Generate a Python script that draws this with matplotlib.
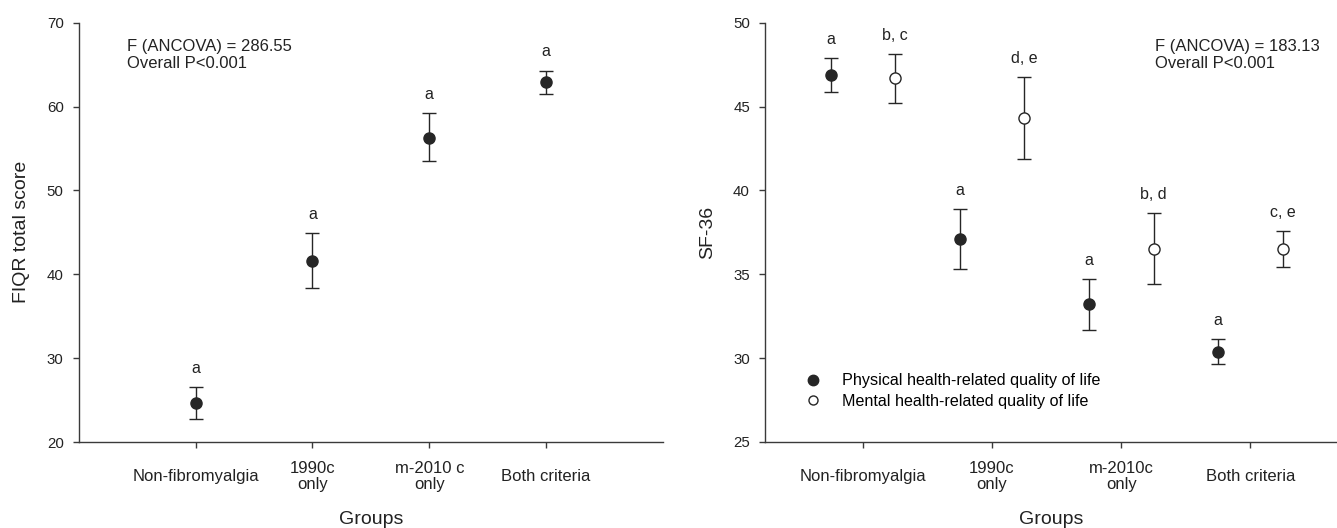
import matplotlib
matplotlib.use("Agg")
import matplotlib.pyplot as plt
import numpy as np

plt.rcParams['font.family'] = ['Liberation Sans', 'DejaVu Sans']

# ---- data ----
groups_left = ["Non-fibromyalgia", "1990c\nonly", "m-2010 c\nonly", "Both criteria"]
groups_right = ["Non-fibromyalgia", "1990c\nonly", "m-2010c\nonly", "Both criteria"]

fiqr_mean = [24.66, 41.6, 56.3, 62.93]
fiqr_upper = [26.55, 44.9, 59.2, 64.3]
fiqr_lower = [22.73, 38.4, 53.45, 61.5]
fiqr_letters = ["a", "a", "a", "a"]

phys_mean = [46.87, 37.09, 33.21, 30.38]
phys_upper = [47.91, 38.88, 34.74, 31.12]
phys_lower = [45.88, 35.32, 31.69, 29.64]
phys_letters = ["a", "a", "a", "a"]

ment_mean = [46.69, 44.32, 36.53, 36.53]
ment_upper = [48.15, 46.77, 38.67, 37.59]
ment_lower = [45.24, 41.85, 34.42, 35.46]
ment_letters = ["b, c", "d, e", "b, d", "c, e"]

left_note = "F (ANCOVA) = 286.55\nOverall P<0.001"
right_note = "F (ANCOVA) = 183.13\nOverall P<0.001"
legend_labels = ["Physical health-related quality of life",
                 "Mental health-related quality of life"]

# ---- figure ----
W, H = 1337, 528
fig = plt.figure(figsize=(W / 100, H / 100), dpi=100)
axL = (78.7, 663)
axR = (765, 1337)
ytop, ybot = 22.7, 442
ax1 = fig.add_axes([axL[0] / W, 1 - ybot / H, (axL[1] - axL[0]) / W, (ybot - ytop) / H])
ax2 = fig.add_axes([axR[0] / W, 1 - ybot / H, (axR[1] - axR[0]) / W, (ybot - ytop) / H])

lc = "#262626"
ac = "#3a3a3a"
tc = "#222222"
ytick_fs = 10.8
xtick_fs = 12
letter_fs = 11.5
note_fs = 12
label_fs = 14
ms = 8


def style(ax, width_px):
    for s in ["top", "right"]:
        ax.spines[s].set_visible(False)
    for s in ["left", "bottom"]:
        ax.spines[s].set_color(ac)
        ax.spines[s].set_linewidth(1.0)
    ax.tick_params(direction="out", length=4.3, width=1, color=ac, labelcolor=tc)
    ax.tick_params(axis="y", labelsize=ytick_fs, pad=6.5)
    ax.tick_params(axis="x", labelsize=xtick_fs, pad=20.5)
    for lab in ax.get_xticklabels():
        lab.set_verticalalignment("center")
        lab.set_linespacing(1.1)
    ax.yaxis.label.set_va("center")
    ax.yaxis.set_label_coords(-57.5 / width_px, 0.5)
    ax.xaxis.label.set_va("baseline")
    ax.xaxis.set_label_coords(0.5, -(524 - ybot) / (ybot - ytop))


def draw(ax, xs, mean, lower, upper, filled, letters):
    mean = np.array(mean)
    yerr = np.vstack([mean - np.array(lower), np.array(upper) - mean])
    ax.errorbar(xs, mean, yerr=yerr, fmt="o", ms=ms,
                mfc=lc if filled else "white", mec=lc, mew=1.0,
                ecolor=lc, elinewidth=1.0, capsize=5, capthick=1.0, zorder=3)
    for x, u, t in zip(xs, upper, letters):
        ax.annotate(t, (x, u), xytext=(0, 8), textcoords="offset points",
                    ha="center", va="bottom", fontsize=letter_fs, color=tc)


x = np.arange(1, 5)

# left panel
draw(ax1, x, fiqr_mean, fiqr_lower, fiqr_upper, True, fiqr_letters)
ax1.set_xlim(0, 5)
ax1.set_ylim(20, 70)
ax1.set_yticks([20, 30, 40, 50, 60, 70])
ax1.set_xticks(x)
ax1.set_xticklabels(groups_left)
ax1.set_ylabel("FIQR total score", fontsize=label_fs, color=tc)
ax1.set_xlabel("Groups", fontsize=label_fs, color=tc)
ax1.text(127 / W, 1 - 38.5 / H, left_note, transform=fig.transFigure,
         fontsize=note_fs, va="top", ha="left", color=tc, linespacing=1.2)
style(ax1, axL[1] - axL[0])

# right panel
off = 0.25
draw(ax2, x - off, phys_mean, phys_lower, phys_upper, True, phys_letters)
draw(ax2, x + off, ment_mean, ment_lower, ment_upper, False, ment_letters)
ax2.set_xlim(0.243, 4.67)
ax2.set_ylim(25, 50)
ax2.set_yticks([25, 30, 35, 40, 45, 50])
ax2.set_xticks(x)
ax2.set_xticklabels(groups_right)
ax2.set_ylabel("SF-36", fontsize=label_fs, color=tc)
ax2.set_xlabel("Groups", fontsize=label_fs, color=tc)
ax2.text(1155 / W, 1 - 38.5 / H, right_note, transform=fig.transFigure,
         fontsize=note_fs, va="top", ha="left", color=tc, linespacing=1.2)
style(ax2, axR[1] - axR[0])

# legend
h1 = ax2.plot([], [], "o", ms=7.5, mfc=lc, mec=lc, ls="none")[0]
h2 = ax2.plot([], [], "o", ms=6.5, mfc="white", mec=lc, mew=1.0, ls="none")[0]
ax2.legend([h1, h2], legend_labels,
           loc="center left", bbox_to_anchor=(805 / W, 1 - 391 / H),
           bbox_transform=fig.transFigure, frameon=False,
           fontsize=11.6, handletextpad=1.3, labelspacing=0.32,
           handlelength=1.0, borderpad=0, borderaxespad=0)

fig.savefig("out.png", dpi=100)
